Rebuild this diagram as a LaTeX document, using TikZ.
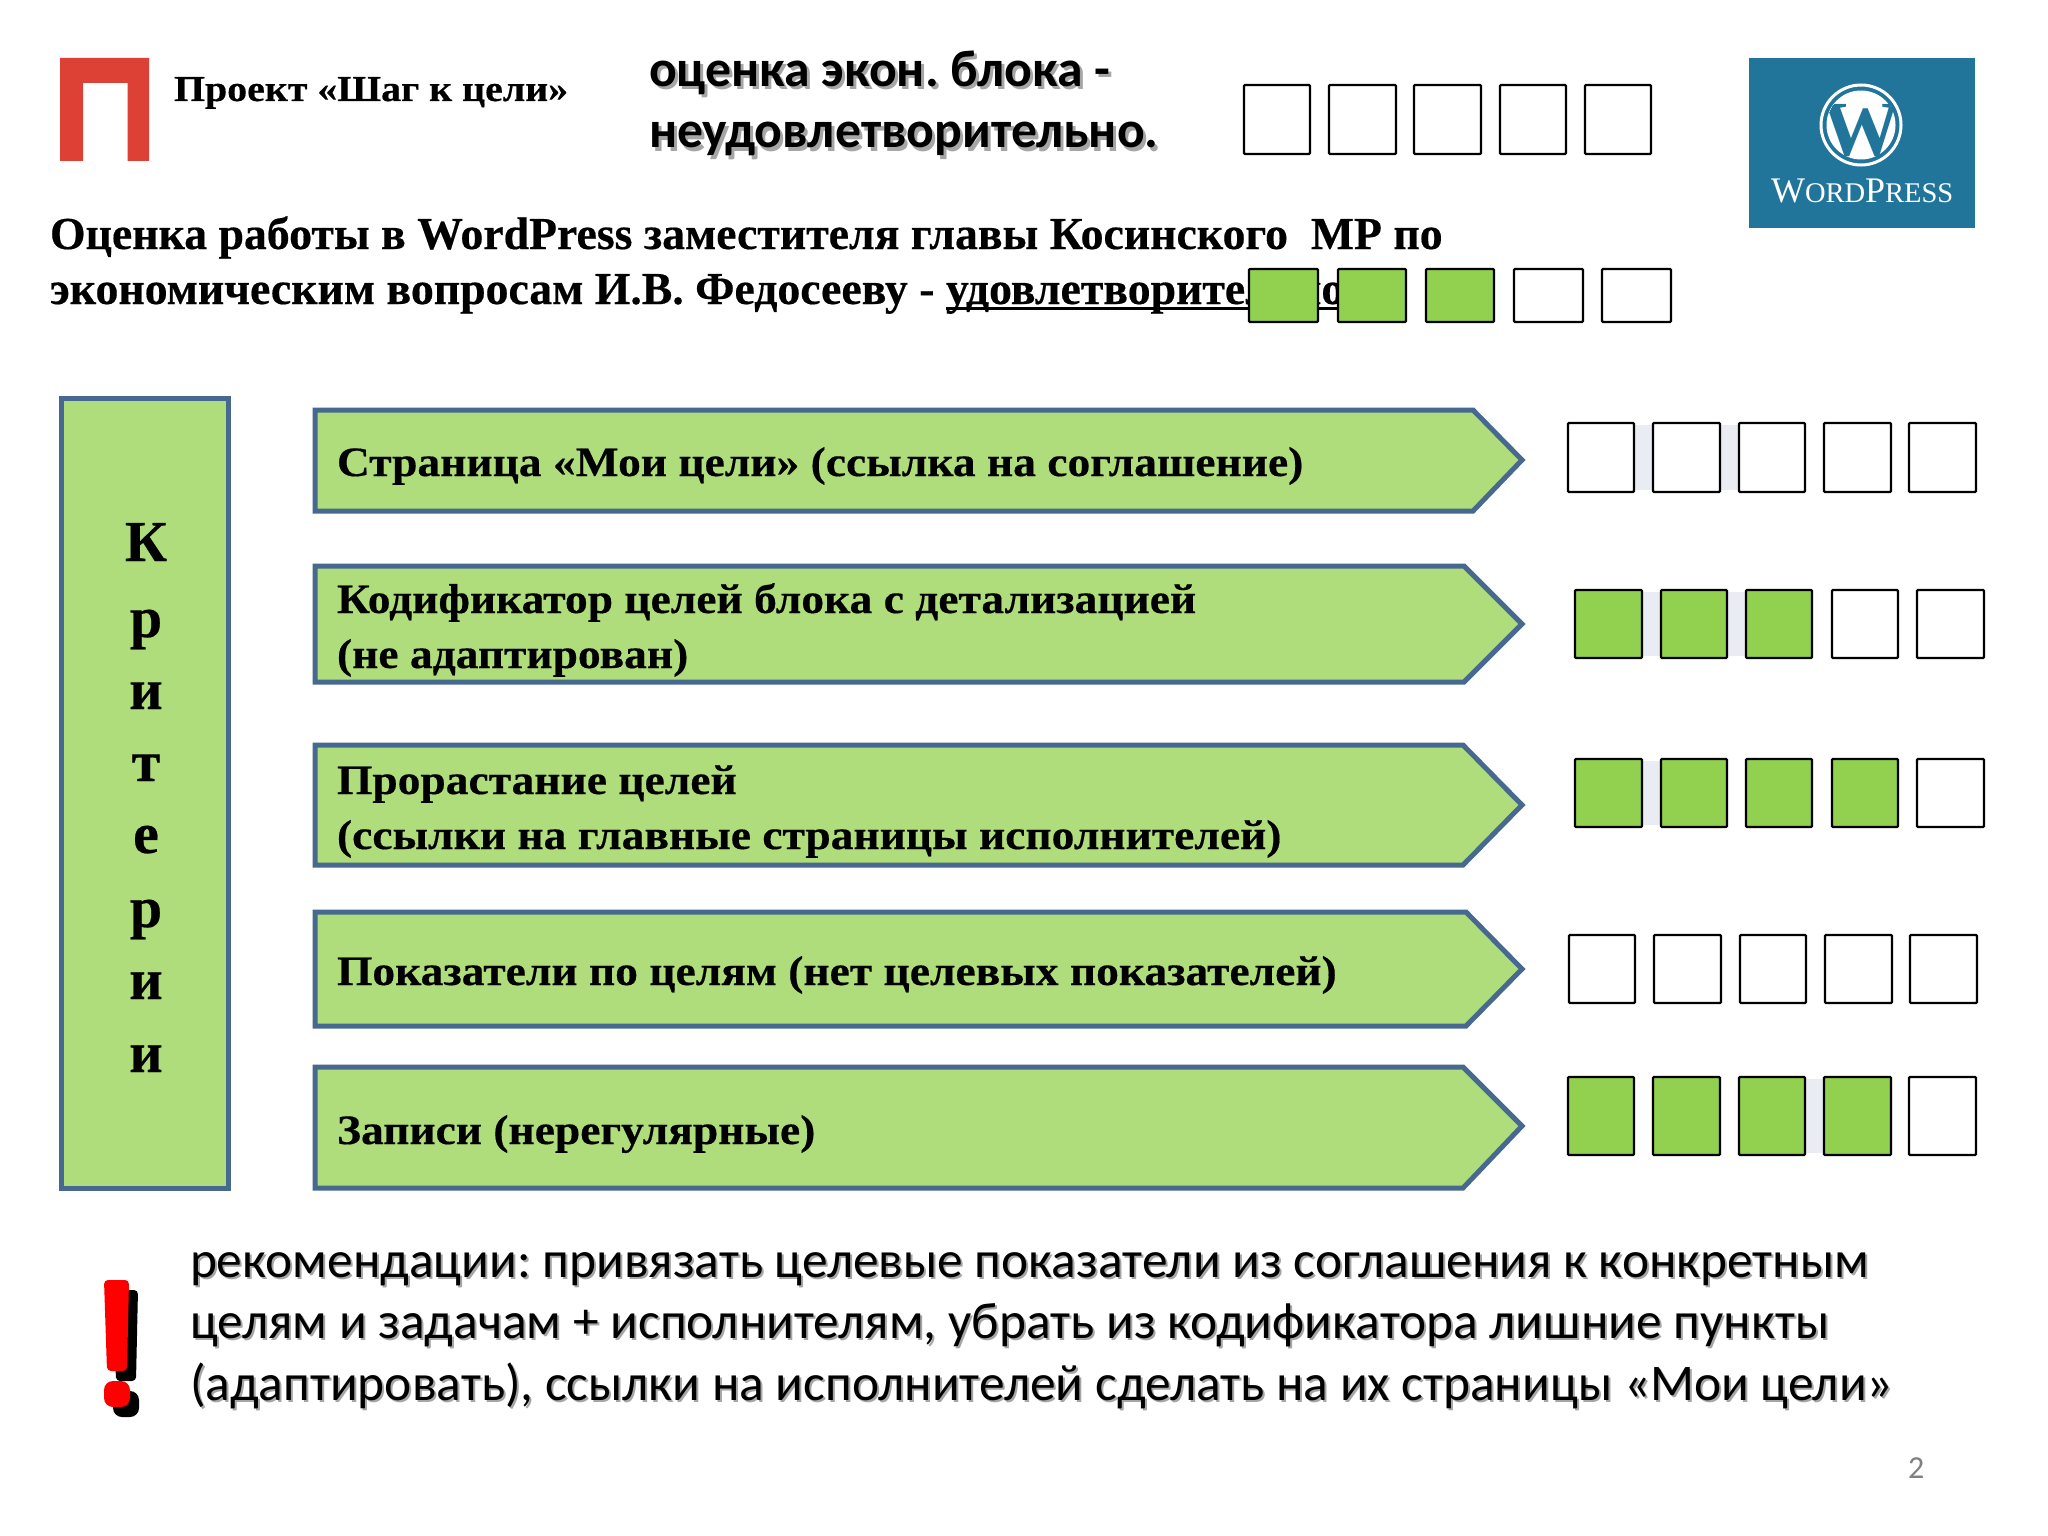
\documentclass[tikz,border=0pt]{standalone}
\usepackage{fontspec}
\setmainfont{Liberation Serif}
\newfontfamily\calfont{Carlito}
\newfontfamily\serifwide[BoldFeatures={FakeStretch=1.09,FakeBold=0.4}]{Liberation Serif}
\newfontfamily\serifheavy[BoldFeatures={FakeBold=0.4}]{Liberation Serif}
\definecolor{bfill}{HTML}{B0DD7C}
\definecolor{bline}{HTML}{47688F}
\definecolor{gfill}{HTML}{92D050}
\definecolor{gapc}{HTML}{E9ECF3}
\definecolor{wpb}{HTML}{21759B}
\definecolor{redp}{HTML}{DD4035}
\definecolor{shad}{HTML}{A6A6A6}
\frenchspacing
\newcommand{\fsz}[1]{\fontsize{#1}{#1}\selectfont}
\newcommand{\ulthick}[1]{\setbox0\hbox{#1}\rlap{\vrule height -3pt depth 6pt width\wd0}\box0}
\tikzset{
  lab/.style={anchor=base west,inner sep=0pt,outer sep=0pt},
  arrowtext/.style={lab,font=\serifwide\bfseries\fsz{41.75}},
  headtext/.style={lab,font=\serifheavy\bfseries\fsz{45.75}},
  blockshape/.style={draw=bline,line width=5pt,fill=bfill,line join=miter},
  emptybox/.style={draw=black,line width=2.4pt,fill=white,rounded corners=1pt},
  greenbox/.style={emptybox,fill=gfill},
  titletext/.style={lab,font=\calfont\bfseries\fsz{51.7}},
  rectext/.style={lab,font=\calfont\fsz{51.4}},
  crittext/.style={anchor=base,inner sep=0pt,font=\serifheavy\bfseries\fsz{58}},
}
\begin{document}
\begin{tikzpicture}[x=1pt,y=-1pt]
\useasboundingbox (0,0) rectangle (2048,1536);
\fill[white] (0,0) rectangle (2048,1536);

% red logo
\fill[redp] (60,161) -- (60,58) -- (149,58) -- (149,161) -- (127.5,161) -- (127.5,83) -- (83,83) -- (83,161) -- cycle;
\node[lab,font=\serifwide\bfseries\fsz{36.6}] (proj) at (174,101) {Проект «Шаг к цели»};

% title
\node[titletext,text=shad] (tsa) at (652,90) {оценка экон. блока -};
\node[titletext,text=shad] (tsb) at (652,151) {неудовлетворительно.};
\node[titletext] (ta) at (649,87) {оценка экон. блока -};
\node[titletext] (tb) at (649,148) {неудовлетворительно.};

% top boxes
\foreach \a/\b in {1244/1310,1329/1396,1414/1481,1500/1566,1585/1651}
  \draw[emptybox] (\a,85) rectangle (\b,154);

% wordpress
\fill[wpb] (1749,58) rectangle (1975,228);
\draw[white,line width=3pt] (1861,125) circle (40);
\fill[white] (1861,125) circle (34.5);
\begin{scope}
\clip (1861,125) circle (34.5);
\node[anchor=base,inner sep=0pt,text=wpb,font=\bfseries\fsz{78}] (wpw) at (1861,156) {W};
\end{scope}
\node[lab,text=white,font=\fsz{36}] (wpt) at (1771,202) {W{\fsz{28.5}ORD}P{\fsz{28.5}RESS}};

% heading
\node[headtext] (ha) at (50,249) {Оценка работы в WordPress заместителя главы Косинского\ \ МР по};
\node[headtext] (hb) at (50,304) {экономическим вопросам И.В. Федосееву - \ulthick{удовлетворительно}};

% heading boxes
\foreach \a/\b/\s in {1249/1318/greenbox,1338/1406/greenbox,1426/1494/greenbox,1514/1583/emptybox,1602/1671/emptybox}
  \draw[\s] (\a,269) rectangle (\b,322);

% criteria column
\draw[blockshape] (61,398) rectangle (228,1188);
\foreach \ch/\y [count=\i] in {К/561,р/637,и/709,т/781,е/853,р/927,и/999,и/1072}
  \node[crittext] (crit\i) at (146,\y) {\ch};

% arrows
\draw[blockshape] (315,410) -- (1473,410) -- (1522,460) -- (1473,511) -- (315,511) -- cycle;
\draw[blockshape] (315,566) -- (1464,566) -- (1522,624) -- (1464,682) -- (315,682) -- cycle;
\draw[blockshape] (315,745) -- (1463,745) -- (1522,805) -- (1463,865) -- (315,865) -- cycle;
\draw[blockshape] (315,912) -- (1466,912) -- (1522,969) -- (1466,1026) -- (315,1026) -- cycle;
\draw[blockshape] (315,1067) -- (1463,1067) -- (1522,1126) -- (1463,1188) -- (315,1188) -- cycle;

% arrow texts
\node[arrowtext] (a1) at (337,476) {Страница «Мои цели» (ссылка на соглашение)};
\node[arrowtext] (a2a) at (337,613) {Кодификатор целей блока с детализацией};
\node[arrowtext] (a2b) at (337,668) {(не адаптирован)};
\node[arrowtext] (a3a) at (337,794) {Прорастание целей};
\node[arrowtext] (a3b) at (337,849) {(ссылки на главные страницы исполнителей)};
\node[arrowtext] (a4) at (337,985) {Показатели по целям (нет целевых показателей)};
\node[arrowtext] (a5) at (337,1144) {Записи (нерегулярные)};

% gap shading
\fill[gapc] (1634,425) rectangle (1653,490);
\fill[gapc] (1720,425) rectangle (1739,490);
\fill[gapc] (1642,592) rectangle (1661,656);
\fill[gapc] (1727,592) rectangle (1746,656);
\fill[gapc] (1642,761) rectangle (1661,825);
\fill[gapc] (1805,1079) rectangle (1824,1153);

% score rows
\foreach \a/\b in {1568/1634,1653/1720,1739/1805,1824/1891,1909/1976}
  \draw[emptybox] (\a,423) rectangle (\b,492);
\foreach \a/\b/\s in {1575/1642/greenbox,1661/1727/greenbox,1746/1812/greenbox,1832/1898/emptybox,1917/1984/emptybox}
  \draw[\s] (\a,590) rectangle (\b,658);
\foreach \a/\b/\s in {1575/1642/greenbox,1661/1727/greenbox,1746/1812/greenbox,1832/1898/greenbox,1917/1984/emptybox}
  \draw[\s] (\a,759) rectangle (\b,827);
\foreach \a/\b in {1569/1635,1654/1721,1740/1806,1825/1892,1910/1977}
  \draw[emptybox] (\a,935) rectangle (\b,1003);
\foreach \a/\b/\s in {1568/1634/greenbox,1653/1720/greenbox,1739/1805/greenbox,1824/1891/greenbox,1909/1976/emptybox}
  \draw[\s] (\a,1077) rectangle (\b,1155);

% exclamation mark
\begin{scope}[shift={(9,10)}]
\fill[black,rounded corners=4pt] (104,1280) -- (129,1280) -- (127,1371) -- (107,1371) -- cycle;
\fill[black,rounded corners=9pt] (104,1381) rectangle (130,1407);
\end{scope}
\fill[red,rounded corners=4pt] (104,1280) -- (129,1280) -- (127,1371) -- (107,1371) -- cycle;
\fill[red,rounded corners=9pt] (104,1381) rectangle (130,1407);

% recommendation
\node[rectext,text=shad] (rsa) at (192,1279) {рекомендации: привязать целевые показатели из соглашения к конкретным};
\node[rectext,text=shad] (rsb) at (192,1340) {целям и задачам + исполнителям, убрать из кодификатора лишние пункты};
\node[rectext,text=shad] (rsc) at (192,1402) {(адаптировать), ссылки на исполнителей сделать на их страницы «Мои цели»};
\node[rectext] (ra) at (190,1277) {рекомендации: привязать целевые показатели из соглашения к конкретным};
\node[rectext] (rb) at (190,1338) {целям и задачам + исполнителям, убрать из кодификатора лишние пункты};
\node[rectext] (rc) at (190,1400) {(адаптировать), ссылки на исполнителей сделать на их страницы «Мои цели»};

\node[lab,text=black!50,font=\calfont\fsz{32}] (pg) at (1908,1478) {2};
\end{tikzpicture}
\end{document}
